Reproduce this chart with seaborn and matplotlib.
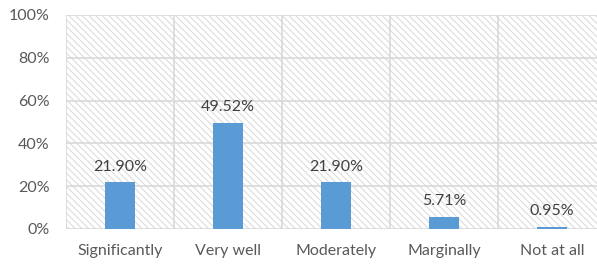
import matplotlib
matplotlib.use("Agg")
import matplotlib.pyplot as plt
import pandas as pd
import seaborn as sns

# Data
categories = ["Significantly", "Very well", "Moderately", "Marginally", "Not at all"]
values = [21.90, 49.52, 21.90, 5.71, 0.95]
y_ticks = [0, 20, 40, 60, 80, 100]

df = pd.DataFrame({"category": categories, "value": values})

sns.set_style("white")
plt.rcParams["font.family"] = ["Lato", "DejaVu Sans"]
plt.rcParams["hatch.color"] = "#dcdcdc"
plt.rcParams["hatch.linewidth"] = 0.8

fig = plt.figure(figsize=(5.97, 2.65), dpi=100)
ax = fig.add_axes([66 / 597, 36 / 265, 540 / 597, 214 / 265])

# hatched plot background
ax.patch.set_facecolor("white")
ax.patch.set_hatch("\\" * 5)
ax.patch.set_edgecolor("#dcdcdc")

sns.barplot(data=df, x="category", y="value", color="#5b9bd5", width=0.27,
            saturation=1, linewidth=0, ax=ax, zorder=3)

ax.set_ylim(0, 100)
ax.set_xlim(-0.5, len(categories) - 0.5)
ax.set_yticks(y_ticks)
ax.set_yticklabels([f"{t}%" for t in y_ticks])

# gridlines
for t in y_ticks:
    ax.axhline(t, color="#d9d9d9", linewidth=1.2, zorder=2)
for i in range(len(categories) + 1):
    ax.axvline(i - 0.5, color="#d9d9d9", linewidth=1.2, zorder=2)

for s in ax.spines.values():
    s.set_visible(False)

for i, v in enumerate(values):
    ax.text(i, v + 4, f"{v:.2f}%", ha="center", va="bottom",
            fontsize=11.5, color="#404040")

ax.tick_params(axis="both", length=0, labelsize=11.5, labelcolor="#595959")
ax.tick_params(axis="x", pad=11)
ax.tick_params(axis="y", pad=12)
ax.set_xlabel("")
ax.set_ylabel("")

fig.savefig("out.png", dpi=100)
